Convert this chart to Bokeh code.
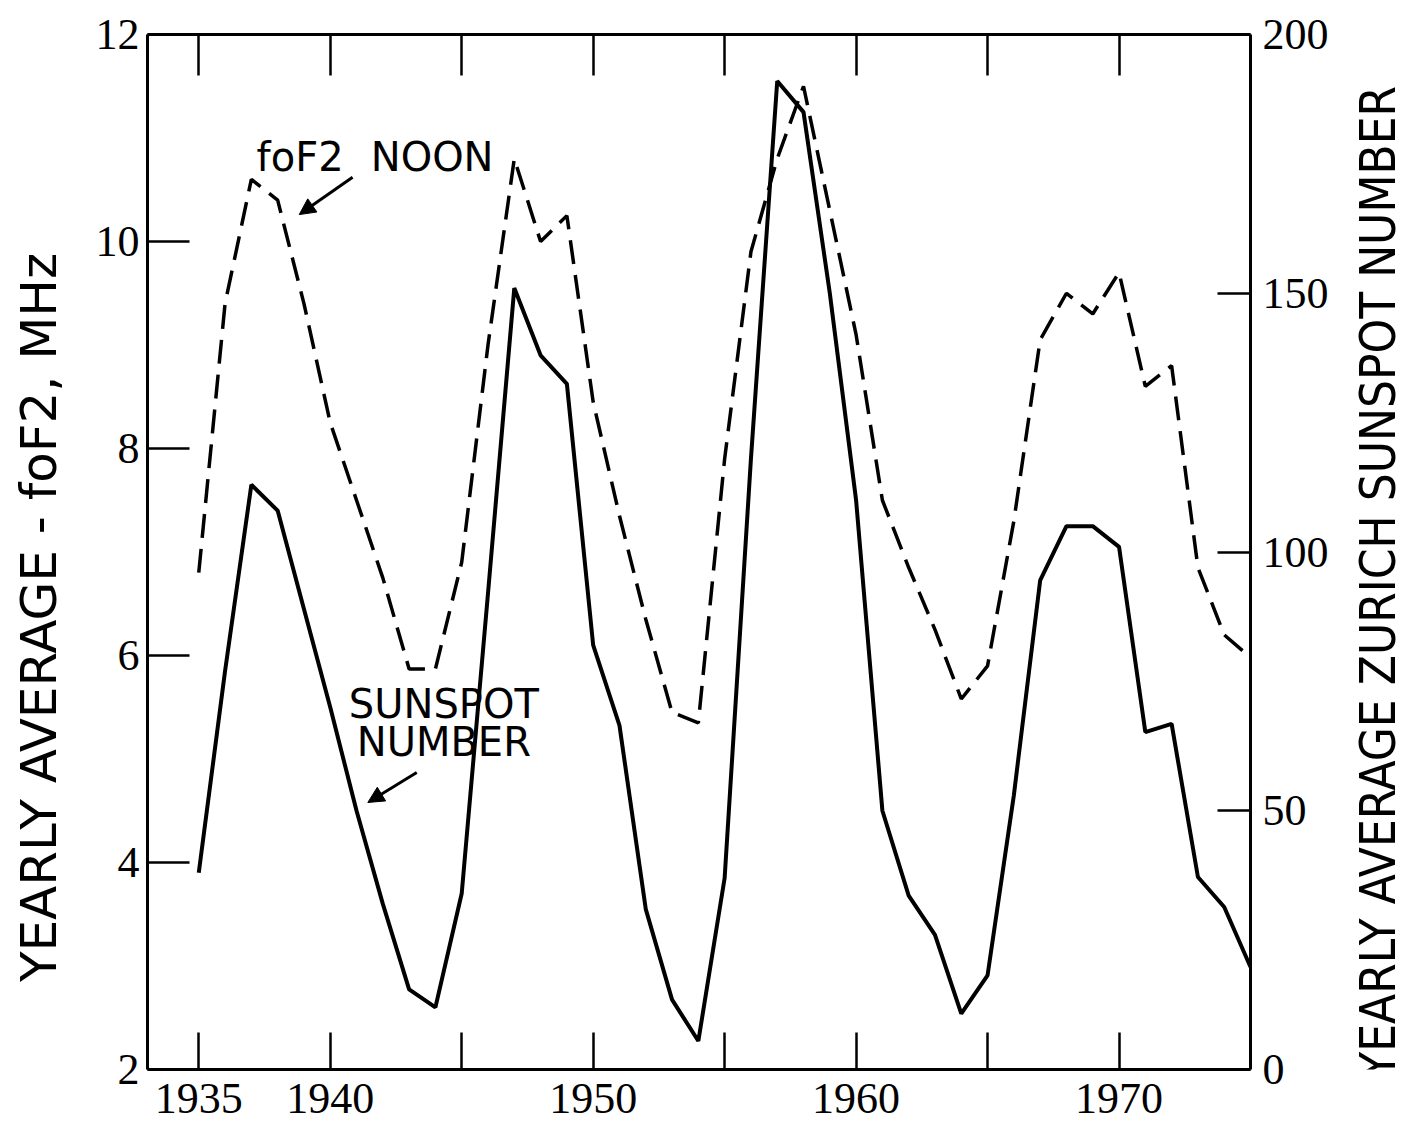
import math
from bokeh.plotting import figure
from bokeh.layouts import row
from bokeh.models import Range1d, LinearAxis, FixedTicker, Label, Arrow, NormalHead
from bokeh.embed import file_html
from bokeh.resources import INLINE

# ---- data ----
years = list(range(1935, 1976))
fof2_noon = [6.8, 9.4, 10.6, 10.4, 9.4, 8.25, 7.5, 6.75, 5.87, 5.87,
             6.9, 9.0, 10.8, 10.0, 10.25, 8.45, 7.35, 6.35, 5.45, 5.35,
             7.9, 9.9, 10.8, 11.5, 10.3, 9.1, 7.5, 6.85, 6.25, 5.58,
             5.9, 7.3, 9.05, 9.5, 9.3, 9.7, 8.6, 8.8, 6.85, 6.2, 5.98]
sunspot = [38, 77, 113, 108, 89, 70, 50, 32, 15.5, 12,
           34, 92, 151, 138, 132.5, 82, 66.5, 31, 13.5, 5.5,
           37, 118, 191, 185, 150, 110, 50, 33.6, 26, 10.8,
           18.2, 53, 94.5, 105, 105, 101, 65.2, 66.8, 37.2, 31.4, 19.8]
x_labeled_ticks = [1935, 1940, 1950, 1960, 1970]
x_plain_ticks = [1945, 1955, 1965]
left_ticks = [2, 4, 6, 8, 10, 12]
right_ticks = [0, 50, 100, 150, 200]
left_title = "YEARLY  AVERAGE - foF2, MHz"
right_title = "YEARLY  AVERAGE  ZURICH  SUNSPOT  NUMBER"

TICK_FONT = "Liberation Serif"
TEXT_FONT = "DejaVu Sans"
COND_FONT = "DejaVu Sans Condensed, DejaVu Sans"

H = 1125
LW, RW = 70, 72          # side panels holding the axis titles
MW = 1408 - LW - RW      # main figure width

p = figure(width=MW, height=H, output_backend="svg", toolbar_location=None,
           x_range=Range1d(1933.05, 1975), y_range=Range1d(2, 12),
           min_border_left=147 - LW, min_border_right=(1408 - RW) - 1250,
           min_border_top=34, min_border_bottom=H - 1069)
p.extra_y_ranges = {"sun": Range1d(0, 200)}
p.grid.visible = False
p.outline_line_color = None
p.background_fill_color = "white"
p.border_fill_color = "white"

def style(ax, tick_in):
    ax.axis_line_color = "black"
    ax.axis_line_width = 3
    ax.major_tick_line_color = "black"
    ax.major_tick_line_width = 2.5
    ax.major_tick_in = tick_in
    ax.major_tick_out = 0
    ax.minor_tick_line_color = None
    ax.major_label_text_font = TICK_FONT
    ax.major_label_text_font_size = "44px"
    ax.major_label_text_color = "black"

# bottom axis: labelled major ticks + unlabelled ticks drawn as minor ticks
xb = p.xaxis[0]
xb.ticker = FixedTicker(ticks=x_labeled_ticks, minor_ticks=x_plain_ticks)
xb.major_label_standoff = 14
style(xb, 37)
xb.minor_tick_line_color = "black"
xb.minor_tick_line_width = 2.5
xb.minor_tick_in = 37
xb.minor_tick_out = 0

# left axis
yl = p.yaxis[0]
yl.ticker = FixedTicker(ticks=left_ticks)
yl.major_label_standoff = 8
style(yl, 42)

# top axis: ticks only
xt = LinearAxis(ticker=FixedTicker(ticks=[], minor_ticks=x_labeled_ticks + x_plain_ticks))
style(xt, 41)
xt.minor_tick_line_color = "black"
xt.minor_tick_line_width = 2.5
xt.minor_tick_in = 41
xt.minor_tick_out = 0
p.add_layout(xt, "above")

# right axis
yr = LinearAxis(y_range_name="sun", ticker=FixedTicker(ticks=right_ticks))
style(yr, 33)
yr.major_label_standoff = 12
p.add_layout(yr, "right")

# data lines
p.line(years, fof2_noon, line_color="black", line_width=3.5, line_dash="24 11")
p.line(years, sunspot, y_range_name="sun", line_color="black", line_width=4)

# annotations
def lab(x, y, t, align="left"):
    p.add_layout(Label(x=x, y=y, text=t, text_font=TEXT_FONT,
                       text_font_size="40px", text_color="black",
                       text_align=align, text_baseline="alphabetic"))

lab(1937.2, 10.82, "foF2")
lab(1941.54, 10.82, "NOON")
lab(1944.32, 5.53, "SUNSPOT", "center")
lab(1944.32, 5.16, "NUMBER", "center")

p.add_layout(Arrow(end=NormalHead(size=16, fill_color="black", line_color="black"),
                   x_start=1940.85, y_start=10.62, x_end=1938.82, y_end=10.26,
                   line_width=3, line_color="black"))
p.add_layout(Arrow(end=NormalHead(size=16, fill_color="black", line_color="black"),
                   x_start=1943.29, y_start=4.87, x_end=1941.43, y_end=4.58,
                   line_width=3, line_color="black"))

# side panels carrying the rotated axis titles
def side_panel(width, cx, cy, text, font, size):
    s = figure(width=width, height=H, output_backend="svg", toolbar_location=None,
               x_range=Range1d(0, width), y_range=Range1d(0, H),
               min_border=0, min_border_left=0, min_border_right=0,
               min_border_top=0, min_border_bottom=0)
    s.axis.visible = False
    s.grid.visible = False
    s.outline_line_color = None
    s.background_fill_color = "white"
    s.border_fill_color = "white"
    s.add_layout(Label(x=cx, y=H - cy, text=text, angle=math.pi / 2,
                       text_align="center", text_baseline="middle",
                       text_font=font, text_font_size=size, text_color="black"))
    return s

left_panel = side_panel(LW, 38, 625, left_title, TEXT_FONT, "50px")
right_panel = side_panel(RW, 1378 - (1408 - RW), 565, right_title, COND_FONT, "49px")

layout = row(left_panel, p, right_panel, spacing=0)
open("out.html", "w").write(file_html(layout, INLINE))
